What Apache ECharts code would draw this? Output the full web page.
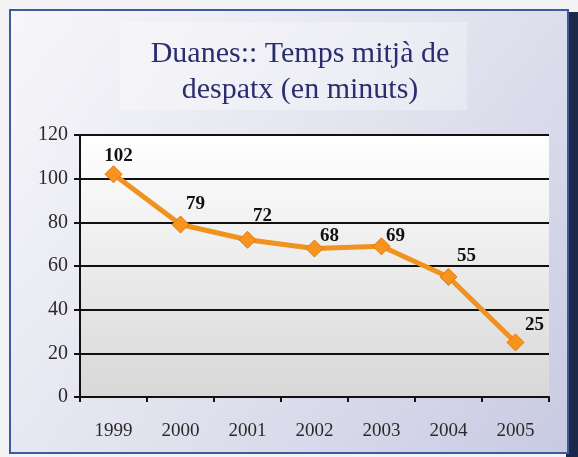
<!DOCTYPE html>
<html><head><meta charset="utf-8">
<script src="https://cdn.jsdelivr.net/npm/echarts@6/dist/echarts.min.js"></script>
<style>html,body{margin:0;padding:0;background:#fff}#c{width:578px;height:457px}</style>
</head><body><div id="c"></div>
<script>
var titleLines = ['Duanes:: Temps mitjà de', 'despatx (en minuts)'];
var years = ['1999','2000','2001','2002','2003','2004','2005'];
var values = [102, 79, 72, 68, 69, 55, 25];
var labelOffsets = [[5,0],[15,-2],[15,-5],[15,6],[14,8],[18,-2],[19,1]];

var chart = echarts.init(document.getElementById('c'));
var serif = '"Liberation Serif","DejaVu Serif",serif';
var G = {left:80, right:29, top:135, bottom:60};
chart.setOption({
  animation: false,
  graphic: [
    {type:'rect', z:-10, shape:{x:0,y:0,width:578,height:457}, style:{fill:'#f3f3f6'}},
    {type:'rect', z:-9, shape:{x:566,y:12,width:12,height:445}, style:{fill:'#1b2a4a'}},
    {type:'rect', z:-8, shape:{x:10,y:10,width:558,height:443},
      style:{fill:{type:'linear',x:0,y:0,x2:1,y2:1,colorStops:[{offset:0,color:'#f7f7fa'},{offset:0.5,color:'#e3e3ef'},{offset:1,color:'#c8cae2'}]},
             stroke:'#3f5aa0', lineWidth:2}},
    {type:'rect', z:-7, shape:{x:120,y:22,width:347,height:88},
      style:{fill:'rgba(255,255,255,0.3)'}},
    {type:'rect', z:-6, shape:{x:G.left,y:G.top,width:578-G.left-G.right,height:457-G.top-G.bottom},
      style:{fill:{type:'linear',x:0,y:0,x2:0,y2:1,colorStops:[{offset:0,color:'#ffffff'},{offset:1,color:'#d8d8d8'}]}}},
    {type:'text', z:5, x:300, y:36, style:{text:titleLines.join('\n'), fill:'#2b2e6e', font:'30px '+serif, textAlign:'center', lineHeight:36}}
  ],
  grid: {left:G.left, right:G.right, top:G.top, bottom:G.bottom},
  xAxis: {type:'category', data:years, boundaryGap:true,
    axisLine:{lineStyle:{color:'#111',width:2}},
    axisTick:{show:true,length:5,lineStyle:{color:'#111',width:2}},
    axisLabel:{color:'#2a2a2a', fontFamily:serif, fontSize:19, margin:25}},
  yAxis: {type:'value', min:0, max:120, interval:20,
    axisLine:{show:true,lineStyle:{color:'#111',width:2}},
    axisTick:{show:true,length:6,lineStyle:{color:'#111',width:2}},
    axisLabel:{color:'#2a2a2a', fontFamily:serif, fontSize:20, margin:12},
    splitLine:{show:true, lineStyle:{color:'#111',width:2,opacity:1}}},
  series: [{
    type:'line', data:values.map(function(v,i){return {value:v,label:{offset:labelOffsets[i]}};}),
    symbol:'diamond', symbolSize:17,
    lineStyle:{color:'#f0921e', width:5},
    itemStyle:{color:'#f7941d', borderColor:'#e07a10', borderWidth:1},
    label:{show:true, position:'top', distance:0, color:'#111', fontFamily:serif, fontSize:19, fontWeight:'bold'}
  }]
});
</script></body></html>
